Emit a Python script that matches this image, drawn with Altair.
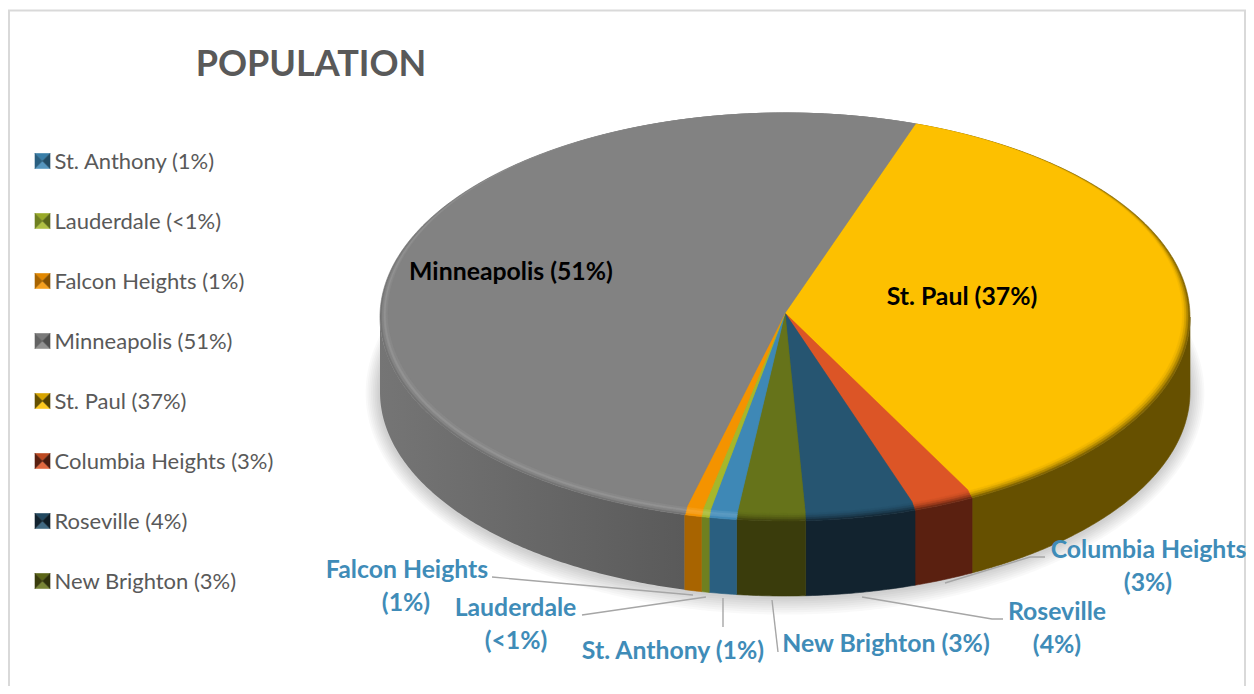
import math
import altair as alt
import pandas as pd

# ---- values
SLICE_NAMES = ["St. Paul", "Columbia Heights", "Roseville", "New Brighton",
               "St. Anthony", "Lauderdale", "Falcon Heights", "Minneapolis"]
SLICE_SHARES = [37.04, 2.44, 4.39, 2.72, 1.09, 0.31, 0.67, 51.35]
LEGEND_NAMES = ["St. Anthony", "Lauderdale", "Falcon Heights", "Minneapolis",
                "St. Paul", "Columbia Heights", "Roseville", "New Brighton"]
LEGEND_PCT = ["1%", "<1%", "1%", "51%", "37%", "3%", "4%", "3%"]
TITLE = "POPULATION"

# ---- styles
TOP = {"St. Paul": "#FDC000", "Columbia Heights": "#DC5526", "Roseville": "#265571",
       "New Brighton": "#66731A", "St. Anthony": "#3E88B6", "Lauderdale": "#A5B72B",
       "Falcon Heights": "#F49300", "Minneapolis": "#828282"}
SIDE = {"St. Paul": "#665000", "Columbia Heights": "#5A2010", "Roseville": "#12232F",
        "New Brighton": "#3A3C0C", "St. Anthony": "#2A5F80", "Lauderdale": "#6F8020",
        "Falcon Heights": "#A86400", "Minneapolis": "#636363"}
GRAY_BEVEL = ["#747474", "#848484", "#929292", "#888888"]
LABEL_BLUE = "#3F8CB8"
TEXT_GRAY = "#595959"
FONT = "Lato"

# ---- layout, in page pixels
CX, CY, RX, RY = 785, 317, 405, 204
APEX = (785, 313)
INNER = (785, 313, 397, 200)
DEPTH = 75
START_ANGLE = 19.16
PAGE = 8
W, H = 1238, 678


def ell(t, cx=CX, cy=CY, rx=RX, ry=RY):
    r = math.radians(t)
    return [cx + rx * math.sin(r), cy - ry * math.cos(r)]


def arc(t0, t1, **kw):
    n = max(2, int(abs(t1 - t0) * 2) + 1)
    return [ell(t0 + (t1 - t0) * i / (n - 1), **kw) for i in range(n)]


def poly(points, fill, op=1.0):
    pts = [list(p) for p in points]
    return {"type": "Feature", "properties": {"fill": fill, "op": op},
            "geometry": {"type": "Polygon", "coordinates": [pts + [pts[0]]]}}


def line(points):
    return {"type": "Feature", "properties": {},
            "geometry": {"type": "LineString", "coordinates": [list(p) for p in points]}}


def mix(a, b, f):
    ca = [int(a[i:i + 2], 16) for i in (1, 3, 5)]
    cb = [int(b[i:i + 2], 16) for i in (1, 3, 5)]
    return "#%02x%02x%02x" % tuple(round(x + (y - x) * f) for x, y in zip(ca, cb))


total = sum(SLICE_SHARES)
ranges = []
a = START_ANGLE
for name, share in zip(SLICE_NAMES, SLICE_SHARES):
    b = a + share / total * 360
    ranges.append((name, a, b))
    a = b

# soft shadow under the pie
shadow = []
for k in range(1, 9):
    shadow.append(poly(arc(0, 360, cy=CY + DEPTH + 1, rx=RX + k * 1.8, ry=RY + k * 2.2), "#000000", 0.022))

# side walls, only the part that faces the viewer
sides, minneapolis_side = [], []
for name, t0, t1 in ranges:
    lo, hi = max(t0, 90), min(t1, 270)
    if lo >= hi:
        continue
    pts = arc(lo, hi) + arc(hi, lo, cy=CY + DEPTH)
    if name == "Minneapolis":
        minneapolis_side.append(poly(pts, SIDE[name]))
    else:
        sides.append(poly(pts, SIDE[name]))

# bevel bands, then the flat top
faces = []
STEPS = [0.0, 0.25, 0.5, 0.75]
for i, f in enumerate(STEPS):
    kw = dict(cx=CX + (INNER[0] - CX) * f, cy=CY + (INNER[1] - CY) * f,
              rx=RX + (INNER[2] - RX) * f, ry=RY + (INNER[3] - RY) * f)
    for name, t0, t1 in ranges:
        if name == "Minneapolis":
            c = GRAY_BEVEL[i]
        elif name in ("Falcon Heights", "Lauderdale", "St. Anthony"):
            c = mix(TOP[name], "#ffffff", [0.0, 0.12, 0.15, 0.08][i])
        else:
            c = mix(SIDE[name], TOP[name], [0.2, 0.5, 0.75, 0.92][i])
        faces.append(poly([APEX] + arc(t0, t1, **kw), c))
for name, t0, t1 in ranges:
    kw = dict(cx=INNER[0], cy=INNER[1], rx=INNER[2], ry=INNER[3])
    faces.append(poly([APEX] + arc(t0, t1, **kw), TOP[name]))

# legend swatches with their pyramid bevel
LEG_X, LEG_S, LEG_Y0, LEG_DY = 35, 15, 161, 60
swatches = []
for i, name in enumerate(LEGEND_NAMES):
    x0, x1 = LEG_X, LEG_X + LEG_S
    yc = LEG_Y0 + i * LEG_DY
    y0, y1 = yc - LEG_S / 2, yc + LEG_S / 2
    mid = (x0 + LEG_S / 2, yc)
    swatches.append(poly([(x0, y0), (x1, y0), mid], mix(TOP[name], SIDE[name], 0.25)))
    swatches.append(poly([(x0, y1), (x1, y1), mid], mix(TOP[name], "#ffffff", 0.12)))
    swatches.append(poly([(x0, y0), (x0, y1), mid], SIDE[name]))
    swatches.append(poly([(x1, y0), (x1, y1), mid], mix(SIDE[name], "#000000", 0.2)))

frame = [line([(PAGE + 1, 694), (PAGE + 1, 10.5), (PAGE + W - 1, 10.5), (PAGE + W - 1, 694)])]

leaders = [line(p) for p in [
    [(492, 577), (693, 595)],
    [(582, 615), (706, 597)],
    [(723, 598), (723, 627)],
    [(772, 600), (778, 652)],
    [(862, 597), (992, 619), (1003, 619)],
    [(945, 583), (1030, 557), (1045, 557)],
]]

PROJ = dict(type="identity", scale=1, translate=[-PAGE, -PAGE])


def geo(features, **mark):
    ch = alt.Chart(alt.Data(values=features)).mark_geoshape(**mark)
    return ch.project(**PROJ)


def filled(features, **mark):
    return geo(features, strokeWidth=0.6, **mark).encode(
        fill=alt.Fill("properties.fill:N", scale=None, legend=None),
        stroke=alt.Stroke("properties.fill:N", scale=None, legend=None),
    )


shadow_layer = geo(shadow, stroke=None).encode(
    fill=alt.Fill("properties.fill:N", scale=None, legend=None),
    opacity=alt.Opacity("properties.op:Q", scale=None, legend=None),
)
grad_side = geo(minneapolis_side, strokeWidth=0,
                fill=alt.Gradient(gradient="linear", x1=0, x2=1, y1=0, y2=0,
                                  stops=[alt.GradientStop(offset=0, color="#757575"),
                                         alt.GradientStop(offset=1, color="#5a5a5a")]))
frame_layer = geo(frame, filled=False, stroke="#d9d9d9", strokeWidth=2, fill=None)
leader_layer = geo(leaders, filled=False, stroke="#a6a6a6", strokeWidth=1.4, fill=None)
swatch_outline = filled(swatches)


def text_layer(rows, size, color, bold, align="center", dy=0):
    df = pd.DataFrame(rows, columns=["label", "px", "py"])
    df["px"] -= PAGE
    df["py"] -= PAGE
    return alt.Chart(df).mark_text(
        font=FONT, fontSize=size, color=color, align=align, baseline="middle",
        fontWeight="bold" if bold else "normal", dy=dy,
    ).encode(
        x=alt.X("px:Q", scale=None, axis=None),
        y=alt.Y("py:Q", scale=None, axis=None),
        text="label:N",
    )


legend_rows = [(f"{n} ({p})", 54.5, LEG_Y0 + i * LEG_DY)
               for i, (n, p) in enumerate(zip(LEGEND_NAMES, LEGEND_PCT))]
outside_rows = [
    ("Falcon Heights", 407, 569), ("(1%)", 406, 602),
    ("Lauderdale", 515.5, 607), ("(<1%)", 516, 640),
    ("St. Anthony (1%)", 673, 650),
    ("New Brighton (3%)", 886, 643),
    ("Roseville", 1057, 611), ("(4%)", 1057, 644),
    ("Columbia Heights", 1148.5, 549), ("(3%)", 1148, 582),
]
inside_rows = [("Minneapolis (51%)", 511, 271), ("St. Paul (37%)", 962, 296)]

chart = alt.layer(
    frame_layer,
    shadow_layer,
    grad_side,
    filled(sides),
    filled(faces),
    leader_layer,
    swatch_outline,
    text_layer([(TITLE, 311, 63)], 36, TEXT_GRAY, True, dy=2),
    text_layer(legend_rows, 22, TEXT_GRAY, False, "left", dy=1),
    text_layer(outside_rows, 24.8, LABEL_BLUE, True, dy=2),
    text_layer(inside_rows, 24.8, "#000000", True, dy=2),
).properties(
    width=W, height=H, padding=0, background="white",
    autosize=alt.AutoSizeParams(type="none"),
).configure_view(stroke=None)

chart.save("out.html", embed_options={"renderer": "svg", "actions": False})
